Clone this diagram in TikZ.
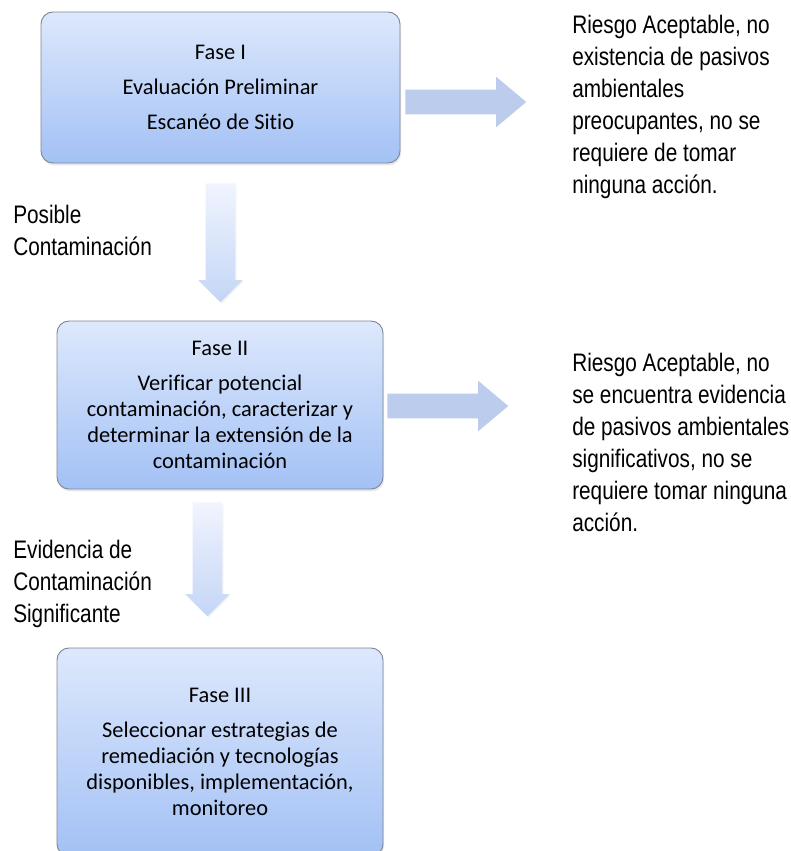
\documentclass[tikz,border=0pt]{standalone}
\usepackage{fontspec}
\setmainfont[Ligatures=NoCommon]{Carlito}
\newfontfamily\narrowfont[FakeStretch=0.82]{Liberation Sans}
\usepackage{tikz}
\usetikzlibrary{shapes, arrows.meta, positioning, shadows}
\definecolor{boxtop}{HTML}{DDE8FC}
\definecolor{boxbot}{HTML}{A3C1F5}
\definecolor{boxline}{HTML}{7D8797}
\definecolor{sidearrow}{HTML}{BCCCEC}
\definecolor{downtop}{HTML}{F0F4FE}
\definecolor{downbot}{HTML}{C4D6F6}

\begin{document}
\begin{tikzpicture}[x=0.75pt, y=-0.75pt,
            fase/.style={draw=boxline, line width=0.7pt, rounded corners=9pt, top color=boxtop, bottom color=boxbot,
                align=center, inner sep=0pt, font=\fontsize{16.8}{19.5}\selectfont,
                drop shadow={opacity=0.18, shadow xshift=0.8pt, shadow yshift=-1.8pt}},
            riesgo/.style={anchor=north west, align=left, inner sep=0pt, font=\narrowfont\fontsize{19}{24}\selectfont},
            flechaDer/.style={single arrow, draw=none, fill=sidearrow, inner sep=0pt, anchor=tail, minimum height=90.75pt,
                minimum width=37.5pt, single arrow head extend=9.75pt, single arrow tip angle=80},
            flechaAbajo/.style={single arrow, draw=none, shape border rotate=270, top color=downtop, bottom color=downbot,
                inner sep=0pt, anchor=tail, minimum width=33pt, single arrow head extend=5.6pt, single arrow tip angle=90,
                drop shadow={opacity=0.08, shadow xshift=1pt, shadow yshift=-1pt}}]
            \useasboundingbox (0,0) rectangle (791,851);
            \clip (0,0) rectangle (791,851);

            \node[fase, minimum width=269.25pt, minimum height=113.25pt] (fase1) at (220.5,87.5)
                {Fase I\\[6.75pt]Evaluación Preliminar\\[6.75pt]Escanéo de Sitio};
            \node[fase, minimum width=244.5pt, minimum height=126pt] (fase2) at (220,405)
                {Fase II\\[6.75pt]Verificar potencial\\contaminación, caracterizar y\\determinar la extensión de la\\contaminación};
            \node[fase, minimum width=244.5pt, minimum height=156pt] (fase3) at (220,752)
                {Fase III\\[6.75pt]Seleccionar estrategias de\\remediación y tecnologías\\disponibles, implementación,\\monitoreo};

            \node[flechaDer] (der1) at (405,102) {\phantom{\rule{18pt}{18pt}}};
            \node[flechaDer] (der2) at (387,406) {\phantom{\rule{18pt}{18pt}}};
            \node[flechaAbajo, minimum height=89.25pt] (abajo1) at (220.5,183) {\phantom{\rule{21.75pt}{21.75pt}}};
            \node[flechaAbajo, minimum height=85.5pt] (abajo2) at (207.5,502) {\phantom{\rule{21.75pt}{21.75pt}}};

            \node[riesgo] (riesgo1) at (572,15) {Riesgo Aceptable, no\\existencia de pasivos\\ambientales\\preocupantes, no se\\requiere de tomar\\ninguna acción.};
            \node[riesgo] (riesgo2) at (572,353) {Riesgo Aceptable, no\\se encuentra evidencia\\de pasivos ambientales\\significativos, no se\\requiere tomar ninguna\\acción.};
            \node[riesgo] (posible) at (13,205) {Posible\\Contaminación};
            \node[riesgo] (evidencia) at (13,540) {Evidencia de\\Contaminación\\Significante};
        \end{tikzpicture}
\end{document}
